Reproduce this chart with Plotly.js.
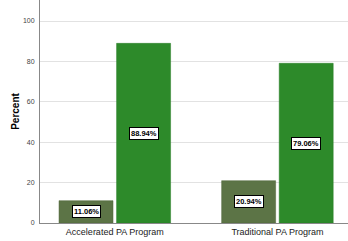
<!DOCTYPE html>
<html><head><meta charset="utf-8">
<script src="https://cdn.plot.ly/plotly-3.0.1.min.js"></script>
<style>html,body{margin:0;padding:0;background:#fff;}#chart{width:348px;height:241px;}</style>
</head><body><div id="chart"></div>
<script>
const categories = ["Accelerated PA Program", "Traditional PA Program"];
const seriesNo = [11.06, 20.94];
const seriesYes = [88.94, 79.06];
const yTicks = [0, 20, 40, 60, 80, 100];

const xs = categories.map((c, i) => i);
const W = 0.332, G = 0.022;
const traces = [
  {type:'bar', x: xs, y: seriesNo, width: W, offset: -(W + G/2), marker:{color:'#5c7446', line:{color:'#4e6539', width:0.5}}, hoverinfo:'none'},
  {type:'bar', x: xs, y: seriesYes, width: W, offset: G/2, marker:{color:'#2d8a2a', line:{color:'#267a24', width:0.5}}, hoverinfo:'none'}
];
const annotations = [];
[[seriesNo, -(W/2 + G/2)], [seriesYes, (W/2 + G/2)]].forEach(([vals, dx]) => {
  vals.forEach((v, i) => {
    annotations.push({x: xs[i] + dx, y: v/2, xref:'x', yref:'y', text: v.toFixed(2) + '%', showarrow:false,
      font:{family:'Liberation Sans Narrow, Arial Narrow, Liberation Sans, Arial', size:7.5, color:'#000', weight:'bold'},
      bgcolor:'#fff', bordercolor:'#000', borderwidth:1, borderpad:1});
  });
});
const layout = {
  width:348, height:241,
  margin:{l:40, r:0, t:0, b:18},
  paper_bgcolor:'#fff', plot_bgcolor:'#fff',
  showlegend:false,
  xaxis:{range:[-0.46, 1.434], tickvals: xs, ticktext: categories, showgrid:false, zeroline:false,
    showline:true, linecolor:'#888', linewidth:1, ticks:'', tickfont:{family:'Liberation Sans, Arial', size:9, color:'#222'}},
  yaxis:{range:[0, 110.4], tickvals: yTicks, showgrid:true, gridcolor:'#e2e2e2', gridwidth:1, zeroline:false,
    showline:true, linecolor:'#888', linewidth:1, ticks:'', ticklabelstandoff:3,
    tickfont:{family:'Liberation Sans, Arial', size:7, color:'#444'},
    title:{text:'Percent', standoff:1, font:{family:'Liberation Sans, Arial', size:10, color:'#000', weight:'bold'}}},
  annotations: annotations
};
Plotly.newPlot('chart', traces, layout, {staticPlot:true});
</script></body></html>
